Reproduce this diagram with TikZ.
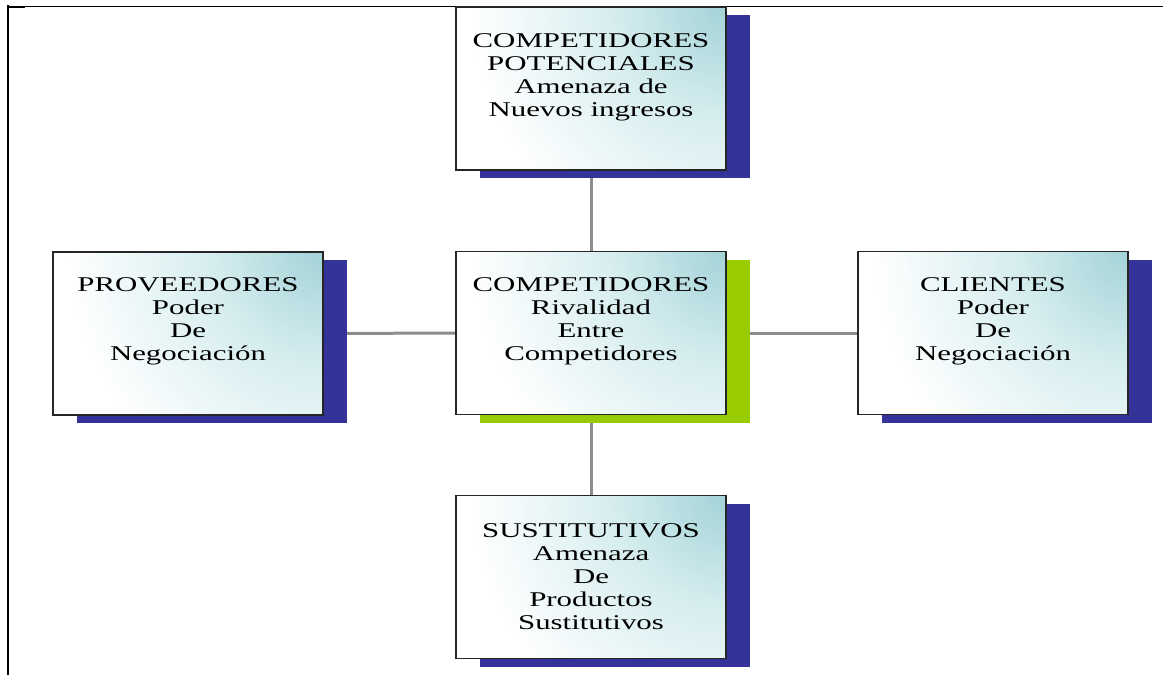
\documentclass[tikz,border=0pt]{standalone}
\usepackage{fontspec}
\newfontfamily\boxfont[FakeStretch=1.47]{Liberation Serif}
\usetikzlibrary{shadows,backgrounds}
\definecolor{navyshadow}{HTML}{333399}
\definecolor{greenshadow}{HTML}{99CC00}
\definecolor{boxteal}{HTML}{A3D3D8}
\definecolor{boxtealmid}{HTML}{D6EDEF}
\definecolor{linegray}{HTML}{8C8C8C}
\pgfdeclareradialshading{cornerglow}{\pgfpoint{0bp}{0bp}}{color(0bp)=(boxteal); color(7bp)=(boxtealmid); color(16bp)=(white); color(50bp)=(white)}
\begin{document}
\begin{tikzpicture}[x=1pt,y=-1pt,
  card/.style={draw=black!85, line width=1.1pt, minimum width=270pt, minimum height=163pt, inner sep=0pt,
    fill=white, path picture={\shade[shading=cornerglow]
      (path picture bounding box.north east) circle (400pt);}},
  navyshade/.style={drop shadow={shadow xshift=24pt, shadow yshift=-8pt, fill=navyshadow, opacity=1, draw=none}},
  greenshade/.style={drop shadow={shadow xshift=24pt, shadow yshift=-8pt, fill=greenshadow, opacity=1, draw=none}},
  txt/.style={font=\boxfont\fontsize{21}{23}\selectfont, align=center, inner sep=0pt, text=black, anchor=north},
  link/.style={draw=linegray, line width=3pt}]
\useasboundingbox (0,0) rectangle (1163,675);
% frame
\draw[line width=1.2pt] (7,6.3) -- (1163,6.3);
\draw[line width=2pt] (7,6.6) -- (25,6.6);
\draw[line width=2.2pt] (7.6,5.4) -- (7.6,675);
% boxes
\node[card, navyshade] (top) at (591,88.5) {};
\node[card, greenshade] (ctr) at (591,333) {};
\node[card, navyshade] (lft) at (188,333.5) {};
\node[card, navyshade] (rgt) at (993,333) {};
\node[card, navyshade] (bot) at (591,577) {};
% texts
\node[txt] (topt) at ([yshift=-26pt]top.north) {\rule{0pt}{15pt}COMPETIDORES\\POTENCIALES\\Amenaza de\\Nuevos ingresos};
\node[txt] (ctrt) at ([yshift=-25pt]ctr.north) {\rule{0pt}{15pt}COMPETIDORES\\Rivalidad\\Entre\\Competidores};
\node[txt] (lftt) at ([yshift=-25pt]lft.north) {\rule{0pt}{15pt}PROVEEDORES\\Poder\\De\\Negociación};
\node[txt] (rgtt) at ([yshift=-25pt]rgt.north) {\rule{0pt}{15pt}CLIENTES\\Poder\\De\\Negociación};
\node[txt] (bott) at ([yshift=-27pt]bot.north) {\rule{0pt}{15pt}SUSTITUTIVOS\\Amenaza\\De\\Productos\\Sustitutivos};
% connectors
\begin{scope}[on background layer]
\draw[link] (top.center) -- (ctr.center);
\draw[link] (lft.center) -- (ctr.center);
\draw[link] (ctr.center) -- (rgt.center);
\draw[link] (ctr.center) -- (bot.center);
\end{scope}
\end{tikzpicture}
\end{document}
